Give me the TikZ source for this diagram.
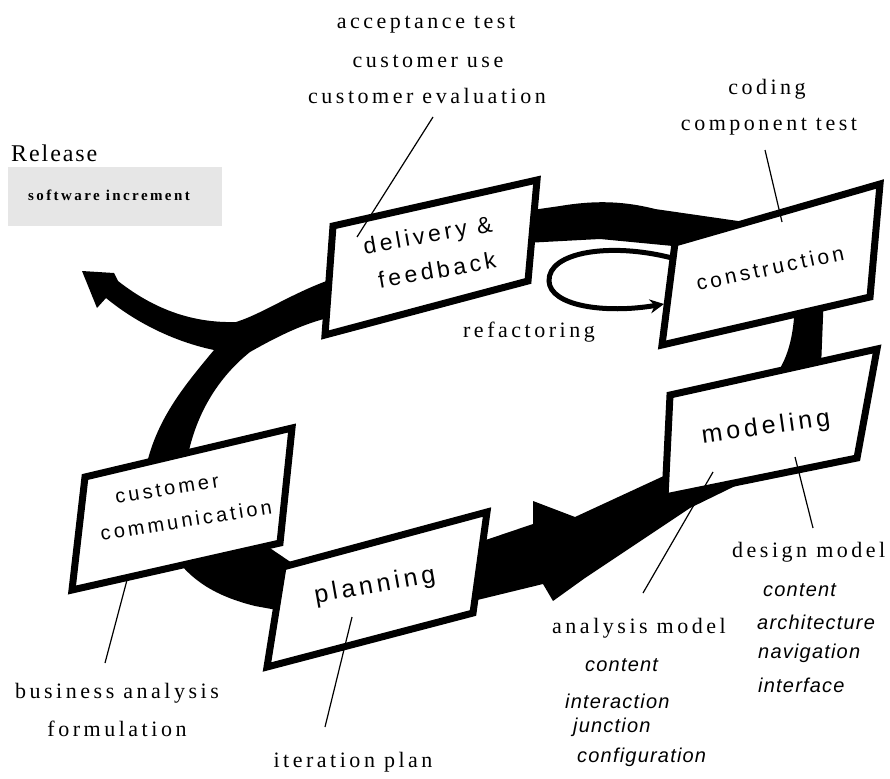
\documentclass[tikz,border=0pt]{standalone}
\usepackage{fontspec}
\setmainfont{Liberation Serif}
\newfontfamily\lblfont[LetterSpace=16]{Liberation Serif}
\newfontfamily\relfont[LetterSpace=8]{Liberation Serif}
\newfontfamily\smallfont[LetterSpace=16]{Liberation Serif}
\newfontfamily\boxfont[LetterSpace=16]{Liberation Sans}
\newfontfamily\itfont[LetterSpace=6]{Liberation Sans}
\usetikzlibrary{arrows.meta}
\definecolor{relgray}{HTML}{E6E6E6}
\tikzset{
  box/.style={draw=black, fill=white, line width=7pt, line join=miter},
  ribbon/.style={fill=black, draw=none},
  lbl/.style={inner sep=0pt, font=\lblfont\fontsize{22}{26}\selectfont},
  boxtxt/.style={inner sep=0pt},
  ittxt/.style={inner sep=0pt, font=\itfont\itshape\fontsize{20}{24}\selectfont, anchor=west},
  leader/.style={draw=black, line width=1.2pt},
  loopline/.style={draw=black, line width=5pt, -{Stealth[length=14pt,width=14pt]}}
}
\begin{document}
\begin{tikzpicture}[x=1pt,y=-1pt]
\useasboundingbox (0,0) rectangle (890,778);
\fill[white] (0,0) rectangle (890,778);

% release gray box
\fill[relgray] (8,167) rectangle (222,226);

% ---------- ribbons ----------
% delivery -> construction (top)
\path[ribbon] (525,211) -- (560,206) .. controls (590,201) and (620,200) .. (655,209)
   -- (745,222) -- (745,252) -- (673,246) -- (600,239) -- (525,243) -- cycle;
% construction -> modeling
\path[ribbon] (795,292) -- (824,292) -- (821,368) -- (768,384)
   .. controls (790,362) and (795,330) .. (795,292) -- cycle;
% modeling -> planning with arrowhead
\path[ribbon] (465,547) -- (533,524) -- (533,501) -- (575,517) -- (668,474)
   -- (772,468) -- (690,508) -- (585,578) -- (553,601) -- (543,584) -- (465,603) -- cycle;
% planning -> customer communication wedge
\path[ribbon] (172,553) -- (258,540) -- (292,563) -- (288,612) -- (255,606)
   .. controls (215,596) and (190,580) .. (172,553) -- cycle;
% left arc with release branch
\path[ribbon] (332,279) .. controls (292,293) and (262,314) .. (236,322)
   .. controls (200,323) and (160,314) .. (118,281)
   -- (114,273) -- (82,271) -- (97,308) -- (106,298)
   .. controls (140,326) and (180,343) .. (214,350)
   .. controls (185,385) and (155,420) .. (145,472)
   -- (186,466)
   .. controls (193,420) and (215,380) .. (250,352)
   .. controls (280,335) and (305,323) .. (332,317) -- cycle;

% ---------- boxes ----------
\coordinate (d1) at (333,226); \coordinate (d2) at (537,180);
\coordinate (d3) at (528,281); \coordinate (d4) at (325,335);
\draw[box] (d1) -- (d2) -- (d3) -- (d4) -- cycle;

\coordinate (c1) at (675,243); \coordinate (c2) at (880,184);
\coordinate (c3) at (870,297); \coordinate (c4) at (662,345);
\draw[box] (c1) -- (c2) -- (c3) -- (c4) -- cycle;

\coordinate (m1) at (670,395); \coordinate (m2) at (877,349);
\coordinate (m3) at (857,458); \coordinate (m4) at (665,497);
\draw[box] (m1) -- (m2) -- (m3) -- (m4) -- cycle;

\coordinate (u1) at (85,477); \coordinate (u2) at (292,428);
\coordinate (u3) at (280,543); \coordinate (u4) at (72,590);
\draw[box] (u1) -- (u2) -- (u3) -- (u4) -- cycle;

\coordinate (p1) at (283,567); \coordinate (p2) at (487,512);
\coordinate (p3) at (473,613); \coordinate (p4) at (267,667);
\draw[box] (p1) -- (p2) -- (p3) -- (p4) -- cycle;

% ---------- box texts ----------
\node[boxtxt, rotate=10, font=\boxfont\fontsize{23}{25}\selectfont] (deliv1) at (428,237) {delivery \&};
\node[boxtxt, rotate=10, font=\boxfont\fontsize{23}{25}\selectfont] (deliv2) at (437,270) {feedback};
\node[boxtxt, rotate=12, font=\boxfont\fontsize{21}{24}\selectfont] (constr) at (770,268) {construction};
\node[boxtxt, rotate=8, font=\boxfont\fontsize{25}{28}\selectfont] (model) at (766,428) {modeling};
\node[boxtxt, rotate=9, font=\boxfont\fontsize{20}{24}\selectfont] (cust1) at (167,489) {customer};
\node[boxtxt, rotate=9, font=\boxfont\fontsize{20}{24}\selectfont] (cust2) at (186,520) {communication};
\node[boxtxt, rotate=10, font=\boxfont\fontsize{25}{28}\selectfont] (plan) at (375,586) {planning};

% ---------- refactoring loop ----------
\coordinate (loopA) at (672,258);
\coordinate (loopB) at (664,304);
\draw[loopline] (loopA) .. controls (610,242) and (548,252) .. (549,281)
   .. controls (550,306) and (605,314) .. (loopB);

% ---------- labels ----------
\node[lbl] (acc) at (426,25) {acceptance test};
\node[lbl] (cuse) at (428,61) {customer use};
\node[lbl] (ceval) at (427,96) {customer evaluation};
\node[lbl] (coding) at (767,89) {coding};
\node[lbl] (comp) at (769,127) {component test};
\node[inner sep=0pt, font=\relfont\fontsize{24}{26}\selectfont, anchor=west] (rel) at (11,153) {Release};
\node[inner sep=0pt, font=\smallfont\bfseries\fontsize{15}{17}\selectfont] (soft) at (109,195) {software increment};
\node[lbl] (refac) at (529,332) {refactoring};
\node[lbl] (biz) at (117,693) {business analysis};
\node[lbl] (form) at (117,729) {formulation};
\node[lbl] (iter) at (353,762) {iteration plan};
\node[lbl, anchor=west] (anm) at (552,628) {analysis model};
\node[lbl, anchor=west] (dsm) at (732,552) {design model};

\node[ittxt] (an1) at (585,665) {content};
\node[ittxt] (an2) at (565,701) {interaction};
\node[ittxt] (an3) at (573,727) {junction};
\node[ittxt] (an4) at (577,757) {configuration};
\node[ittxt] (ds1) at (763,590) {content};
\node[ittxt] (ds2) at (757,622) {architecture};
\node[ittxt] (ds3) at (758,653) {navigation};
\node[ittxt] (ds4) at (758,685) {interface};

% ---------- leader lines ----------
\coordinate (accS) at (433,117); \coordinate (accE) at (357,237);
\coordinate (compS) at (765,150); \coordinate (compE) at (782,222);
\coordinate (bizS) at (105,663); \coordinate (bizE) at (127,580);
\coordinate (iterS) at (325,727); \coordinate (iterE) at (352,617);
\coordinate (anS) at (643,593); \coordinate (anE) at (713,472);
\coordinate (dsS) at (813,528); \coordinate (dsE) at (795,457);
\draw[leader] (accS) -- (accE);
\draw[leader] (compS) -- (compE);
\draw[leader] (bizS) -- (bizE);
\draw[leader] (iterS) -- (iterE);
\draw[leader] (anS) -- (anE);
\draw[leader] (dsS) -- (dsE);
\end{tikzpicture}
\end{document}
